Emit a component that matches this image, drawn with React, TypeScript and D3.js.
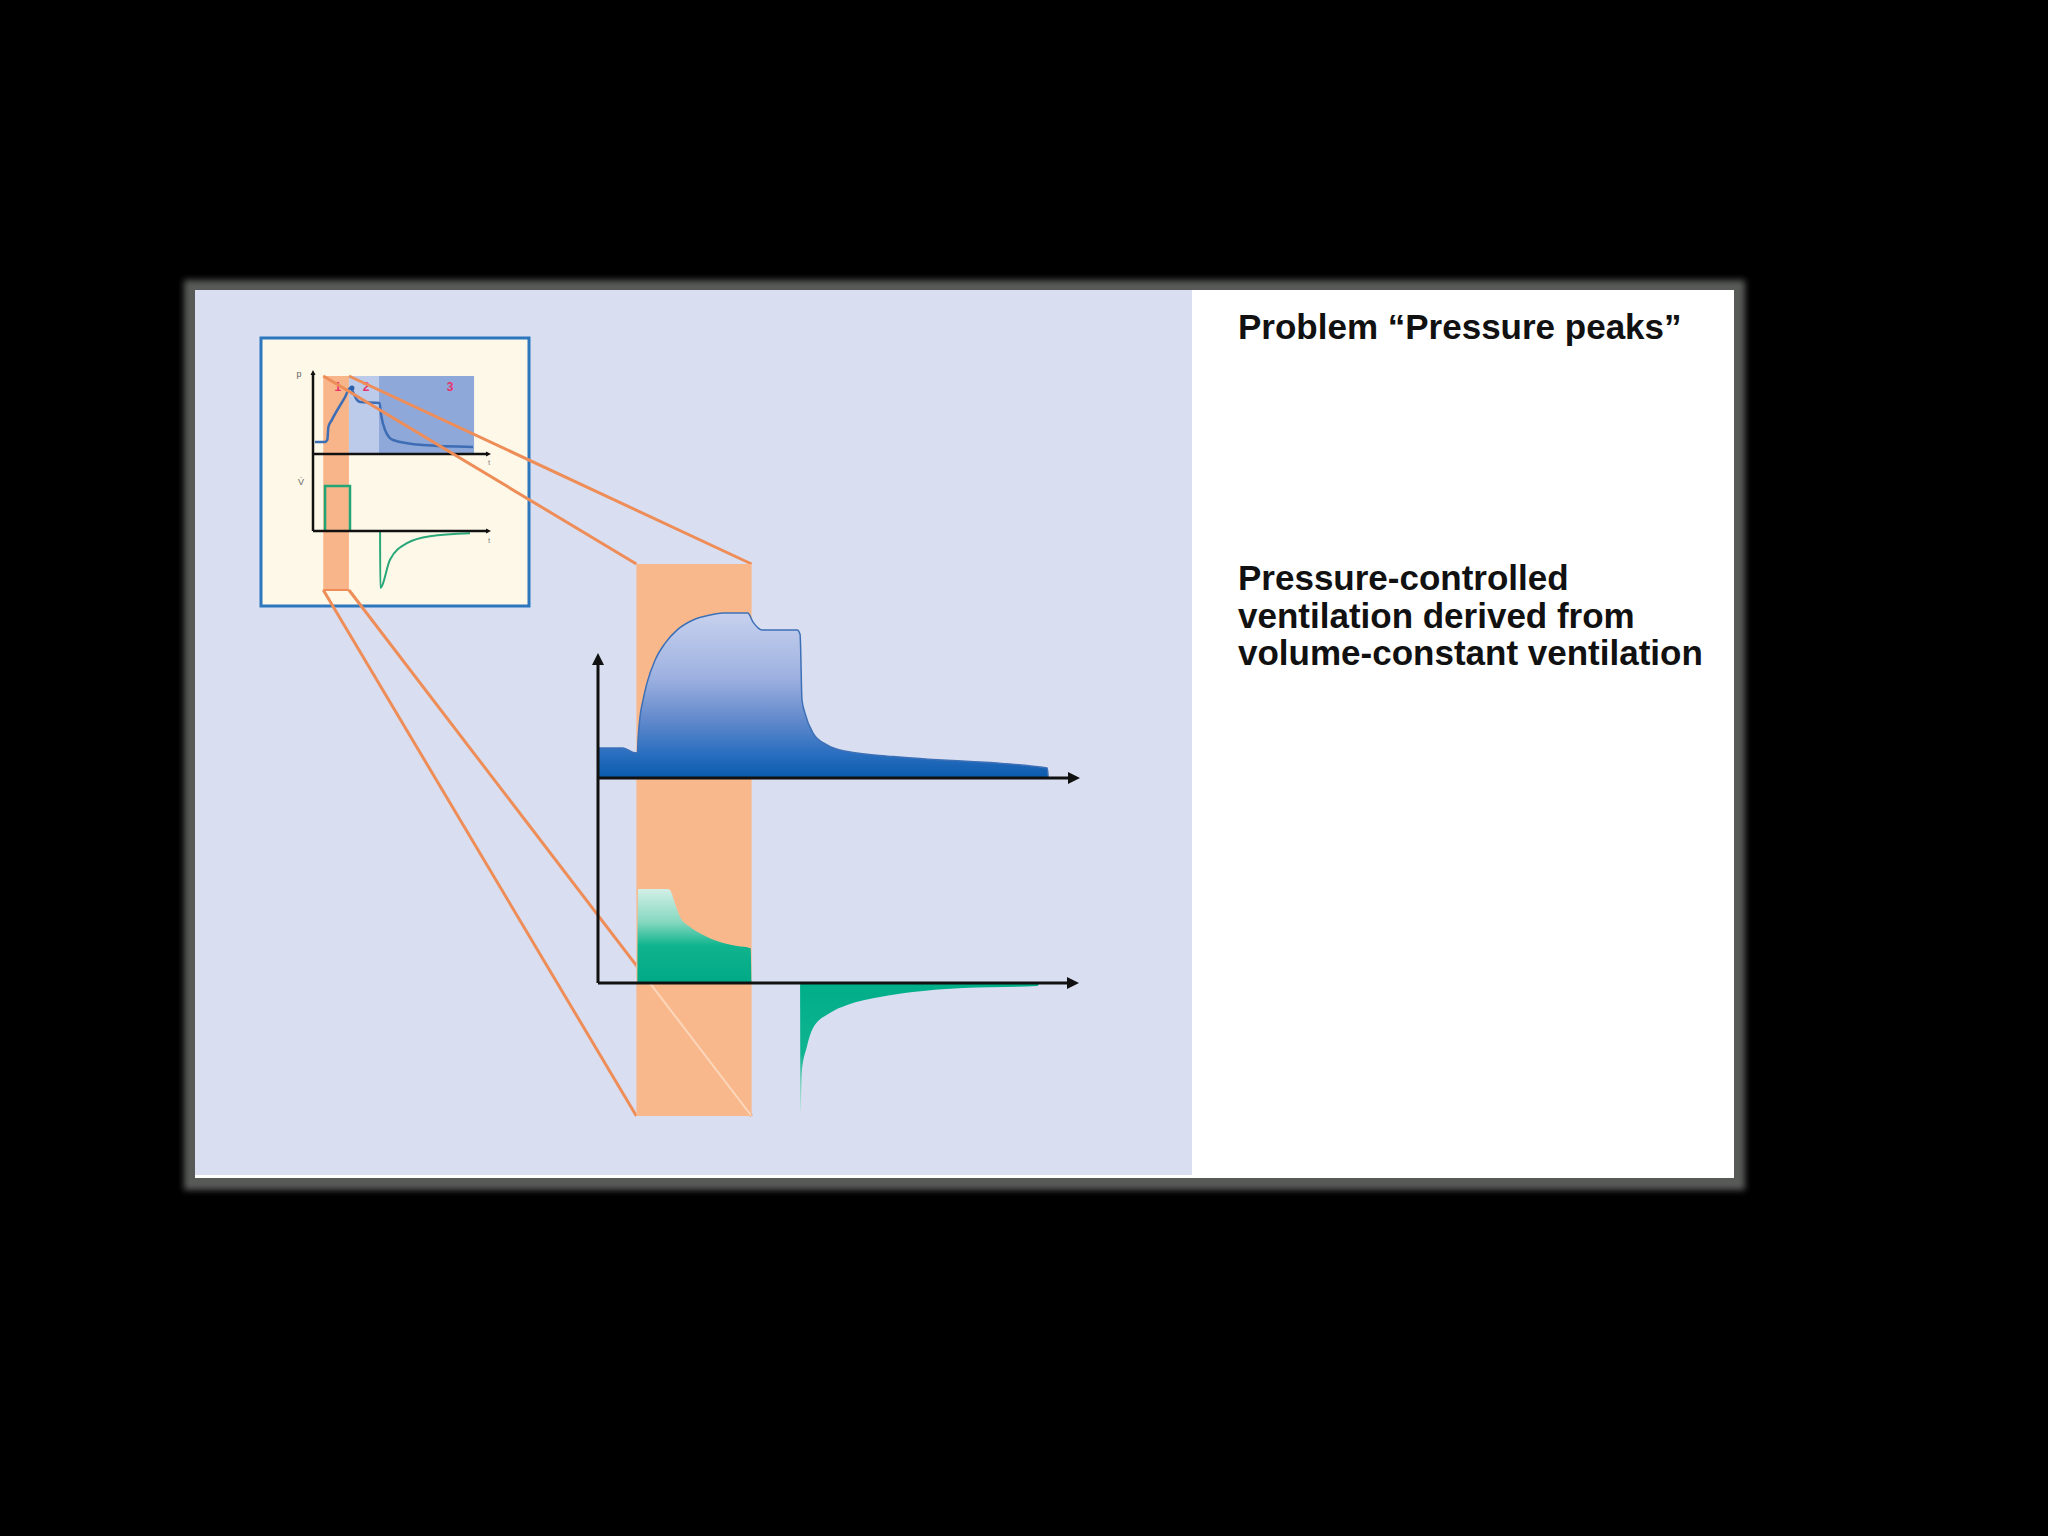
import React from 'react';
import * as d3 from 'd3';

const W = 2048;
const H = 1536;

// Main chart: pressure-controlled ventilation (time in % of cycle)
const pcvTime = [0, 5.2, 7.7, 8.2, 8.35, 8.75, 9.4, 10.2, 11.9, 14, 16.5, 19.8, 23.3, 26, 31.2, 32.3, 34.2, 41.5, 42.1, 42.5, 43.1, 44.8, 47.7, 51.9, 61.5, 93.6, 93.8];
const pcvPressure = [7.3, 7.3, 6.1, 6.1, 9.5, 14.8, 19, 23, 28.6, 32.7, 35.9, 38.3, 39.5, 40, 40, 37.8, 35.9, 35.9, 34.8, 18.9, 15.8, 10.9, 8, 6.4, 5.2, 2.4, 0];

const pcvFlowInTime = [8.2, 8.35, 14.4, 15, 16, 17.1, 19.2, 21.9, 25.4, 29, 31.8, 32];
const pcvFlowIn = [0, 47, 47, 46.5, 40, 33, 28, 24, 20.5, 18.5, 17.4, 0];

const pcvFlowOutTime = [42.1, 42.2, 42.45, 43.5, 44.8, 48.3, 51.9, 58.75, 65.6, 76, 91.5, 92];
const pcvFlowOut = [0, -64.5, -45, -32, -22.5, -15, -11, -7, -4.5, -2.5, -1.5, 0];

// Inset: volume-constant ventilation
const vcvTime = [1.1, 6.8, 8.1, 8.7, 10.6, 18.1, 20.9, 24.9, 26.6, 37.6, 38.5, 40.7, 45.2, 62.1, 90.4];
const vcvPressure = [6.2, 6.2, 7.2, 13.8, 17.4, 29.2, 33.8, 27.7, 26.7, 26.2, 20, 12.3, 7.2, 4.6, 3.6];
const vcvPeak = { t: 22, p: 33.8 };

const vcvFlowInTime = [6.8, 6.8, 20.9, 20.9];
const vcvFlowIn = [0, 50, 50, 0];
const vcvFlowOutTime = [37.9, 38, 43.5, 53.1, 66.1, 88.7];
const vcvFlowOut = [0, -63, -32, -13.5, -5.8, -2.5];

const phaseBounds = [5.8, 20.3, 37.3, 91];
const phaseLabels = ['1', '2', '3'];
const phaseLabelTime = [14.1, 30, 77.4];

const mainStrip = [8, 32];

const title = 'Problem “Pressure peaks”';
const subtitle = ['Pressure-controlled', 'ventilation derived from', 'volume-constant ventilation'];

const FONT = '"Liberation Sans", Arial, Helvetica, sans-serif';

const zip = (ts: number[], vs: number[]) => ts.map((t, i) => ({ t, v: vs[i] }));

export default function App() {
  // main scales
  const x = d3.scaleLinear().domain([0, 100]).range([598, 1078]);
  const yP = d3.scaleLinear().domain([0, 40]).range([778, 613]);
  const yF = d3.scaleLinear().domain([0, 47]).range([983, 889]);

  // inset scales
  const ix = d3.scaleLinear().domain([0, 100]).range([313, 490]);
  const iyP = d3.scaleLinear().domain([0, 40]).range([454, 376]);
  const iyF = d3.scaleLinear().domain([0, 50]).range([531, 486]);

  const pData = zip(pcvTime, pcvPressure);
  const pArea = d3.area<{ t: number; v: number }>()
    .x(d => x(d.t)).y0(yP(0)).y1(d => yP(d.v)).curve(d3.curveMonotoneX);
  const pLine = d3.line<{ t: number; v: number }>()
    .x(d => x(d.t)).y(d => yP(d.v)).curve(d3.curveMonotoneX);

  const fArea = d3.area<{ t: number; v: number }>()
    .x(d => x(d.t)).y0(yF(0)).y1(d => yF(d.v)).curve(d3.curveMonotoneX);

  const ipLine = d3.line<{ t: number; v: number }>()
    .x(d => ix(d.t)).y(d => iyP(d.v)).curve(d3.curveMonotoneX);
  const ifLine = d3.line<{ t: number; v: number }>()
    .x(d => ix(d.t)).y(d => iyF(d.v));
  const ifCurve = d3.line<{ t: number; v: number }>()
    .x(d => ix(d.t)).y(d => iyF(d.v)).curve(d3.curveMonotoneX);

  // zoom strip geometry
  const stripTop = 564;
  const stripBottom = 1116;
  const insetStripTop = iyP(40);
  const insetStripBottom = 590;
  const sx0 = x(mainStrip[0]);
  const sx1 = x(mainStrip[1]);
  const ix0 = ix(phaseBounds[0]);
  const ix1 = ix(phaseBounds[1]);

  const [xa0, xa1] = x.range();
  const orange = '#ee8d58';
  const axisCol = '#111';

  const arrowUp = (cx: number, cy: number, s: number) =>
    `M${cx},${cy} L${cx - s / 2},${cy + s} L${cx + s / 2},${cy + s} Z`;
  const arrowRight = (cx: number, cy: number, s: number) =>
    `M${cx},${cy} L${cx - s},${cy - s / 2} L${cx - s},${cy + s / 2} Z`;

  return (
    <div style={{ position: 'absolute', left: 0, top: 0, width: W, height: H, background: '#000' }}>
      <svg width={W} height={H} style={{ display: 'block' }}>
        <defs>
          <filter id="blur" x="-5%" y="-5%" width="110%" height="110%">
            <feGaussianBlur stdDeviation="3" />
          </filter>
          <linearGradient id="pGrad" gradientUnits="userSpaceOnUse" x1="0" y1={yP(40)} x2="0" y2={yP(0)}>
            <stop offset="0" stopColor="#c8d1ee" />
            <stop offset="0.4" stopColor="#9cb0e0" />
            <stop offset="0.65" stopColor="#6189cc" />
            <stop offset="0.85" stopColor="#2a6fc0" />
            <stop offset="1" stopColor="#0a5aac" />
          </linearGradient>
          <linearGradient id="fGrad" gradientUnits="userSpaceOnUse" x1="0" y1={yF(47)} x2="0" y2={yF(0)}>
            <stop offset="0" stopColor="#d2efe6" />
            <stop offset="0.35" stopColor="#86d8c0" />
            <stop offset="0.6" stopColor="#10b48e" />
            <stop offset="1" stopColor="#00a986" />
          </linearGradient>
          <linearGradient id="fOutGrad" gradientUnits="userSpaceOnUse" x1="0" y1={yF(0)} x2="0" y2={yF(-64.5)}>
            <stop offset="0" stopColor="#00ae8a" />
            <stop offset="0.55" stopColor="#10b490" />
            <stop offset="1" stopColor="#a8e2d0" />
          </linearGradient>
          <clipPath id="stripClip">
            <rect x={sx0} y={stripTop} width={sx1 - sx0} height={stripBottom - stripTop} />
          </clipPath>
        </defs>

        {/* frame */}
        <rect x={184} y={280} width={1561} height={910} fill="#595a59" filter="url(#blur)" />
        <rect x={195} y={290} width={1539} height={888} fill="#ffffff" />
        <rect x={195} y={290} width={997} height={885} fill="#d9dff1" />

        {/* inset box */}
        <rect x={261} y={338} width={268} height={268} fill="#fdf8e7" stroke="#2c77bd" strokeWidth={3} />
        <rect x={ix(phaseBounds[0])} y={insetStripTop} width={ix(phaseBounds[1]) - ix(phaseBounds[0])}
          height={insetStripBottom - insetStripTop} fill="#f8b58a" />
        <rect x={ix(phaseBounds[1])} y={insetStripTop} width={ix(phaseBounds[2]) - ix(phaseBounds[1])}
          height={iyP(0) - insetStripTop} fill="#bccbea" />
        <rect x={ix(phaseBounds[2])} y={insetStripTop} width={ix(phaseBounds[3]) - ix(phaseBounds[2])}
          height={iyP(0) - insetStripTop} fill="#8fa8da" />
        {phaseLabels.map((l, i) => (
          <text key={l} x={ix(phaseLabelTime[i])} y={insetStripTop + 15} textAnchor="middle"
            fontFamily={FONT} fontSize={12} fontWeight="bold" fill="#e8326c">{l}</text>
        ))}
        <path d={ipLine(zip(vcvTime, vcvPressure)) || ''} fill="none" stroke="#3d6db4" strokeWidth={2.5} />
        <circle cx={ix(vcvPeak.t)} cy={iyP(vcvPeak.p)} r={2.5} fill="#2a5ea8" />
        <path d={ifLine(zip(vcvFlowInTime, vcvFlowIn)) || ''} fill="none" stroke="#22a676" strokeWidth={2.5} />
        <path d={ifCurve(zip(vcvFlowOutTime, vcvFlowOut)) || ''} fill="none" stroke="#2aa87a" strokeWidth={2} />
        {/* inset axes */}
        <line x1={ix(0)} y1={373} x2={ix(0)} y2={iyF(0)} stroke={axisCol} strokeWidth={2.5} />
        <path d={arrowUp(ix(0), 370, 5)} fill={axisCol} />
        <line x1={ix(0)} y1={iyP(0)} x2={ix(100) - 2} y2={iyP(0)} stroke={axisCol} strokeWidth={2.5} />
        <path d={arrowRight(ix(100) + 1, iyP(0), 5)} fill={axisCol} />
        <line x1={ix(0)} y1={iyF(0)} x2={ix(100) - 2} y2={iyF(0)} stroke={axisCol} strokeWidth={2.5} />
        <path d={arrowRight(ix(100) + 1, iyF(0), 5)} fill={axisCol} />
        <text x={299} y={377} fontFamily={FONT} fontSize={9} fill="#666" textAnchor="middle">p</text>
        <text x={301} y={485} fontFamily={FONT} fontSize={9} fill="#666" textAnchor="middle">V̇</text>
        <text x={489} y={465} fontFamily={FONT} fontSize={8} fill="#888" textAnchor="middle">t</text>
        <text x={489} y={543} fontFamily={FONT} fontSize={8} fill="#888" textAnchor="middle">t</text>

        {/* zoom connectors */}
        <line x1={ix0} y1={insetStripTop} x2={sx0} y2={stripTop} stroke={orange} strokeWidth={3} />
        <line x1={ix1} y1={insetStripTop} x2={sx1} y2={stripTop} stroke={orange} strokeWidth={3} />
        <line x1={ix0} y1={insetStripBottom} x2={sx0} y2={stripBottom} stroke={orange} strokeWidth={3} />
        <line x1={ix1} y1={insetStripBottom} x2={sx1} y2={stripBottom} stroke={orange} strokeWidth={3} />
        <line x1={ix0} y1={insetStripBottom} x2={ix1} y2={insetStripBottom} stroke={orange} strokeWidth={2} />

        {/* main strip */}
        <rect x={sx0} y={stripTop} width={sx1 - sx0} height={stripBottom - stripTop} fill="#f9b88b" />
        <line x1={ix1} y1={insetStripBottom} x2={sx1} y2={stripBottom} stroke="#fcd6bb" strokeWidth={2}
          clipPath="url(#stripClip)" />

        {/* main pressure */}
        <path d={pArea(pData) || ''} fill="url(#pGrad)" />
        <path d={pLine(pData) || ''} fill="none" stroke="#3d70b6" strokeWidth={1.5} />

        {/* main flow */}
        <path d={fArea(zip(pcvFlowInTime, pcvFlowIn)) || ''} fill="url(#fGrad)" />
        <path d={fArea(zip(pcvFlowOutTime, pcvFlowOut)) || ''} fill="url(#fOutGrad)" />

        {/* main axes */}
        <line x1={xa0} y1={665} x2={xa0} y2={yF(0)} stroke={axisCol} strokeWidth={3} />
        <path d={arrowUp(xa0, 653, 12)} fill={axisCol} />
        <line x1={xa0} y1={yP(0)} x2={xa1 - 8} y2={yP(0)} stroke={axisCol} strokeWidth={3} />
        <path d={arrowRight(xa1 + 2, yP(0), 12)} fill={axisCol} />
        <line x1={xa0} y1={yF(0)} x2={xa1 - 8} y2={yF(0)} stroke={axisCol} strokeWidth={3} />
        <path d={arrowRight(xa1 + 1, yF(0), 12)} fill={axisCol} />

        {/* texts */}
        <text x={1238} y={339} fontFamily={FONT} fontSize={35} fontWeight="bold" fill="#111">{title}</text>
        {subtitle.map((s, i) => (
          <text key={s} x={1238} y={590 + i * 37.5} fontFamily={FONT} fontSize={35} fontWeight="bold" fill="#111">{s}</text>
        ))}
      </svg>
    </div>
  );
}
